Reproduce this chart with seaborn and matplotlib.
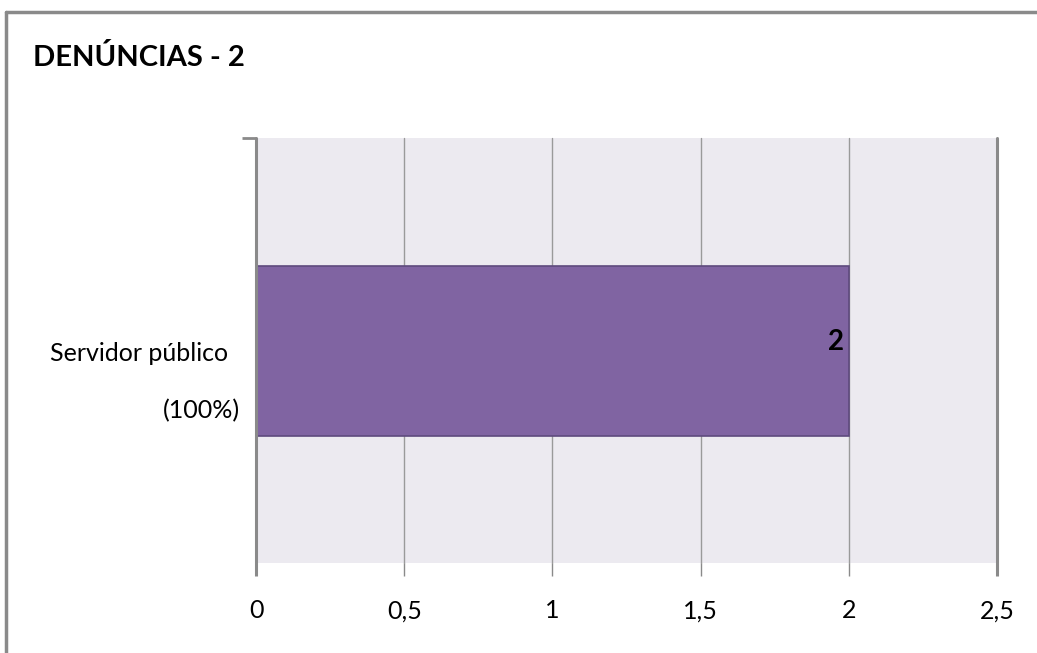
import matplotlib
matplotlib.use("Agg")
import matplotlib.pyplot as plt
import matplotlib.transforms as mtransforms
from matplotlib.lines import Line2D
import seaborn as sns
import pandas as pd

# Chart data
title = "DENÚNCIAS - 2"
categories = ["Servidor público"]
shares = ["(100%)"]
counts = [2]
x_ticks = [0, 0.5, 1, 1.5, 2, 2.5]
x_tick_labels = ["0", "0,5", "1", "1,5", "2", "2,5"]

sns.set_theme(style="white")
plt.rcParams["font.family"] = ["Lato", "DejaVu Sans"]

df = pd.DataFrame({"categoria": categories, "total": counts})

W, H = 1037, 653
fig = plt.figure(figsize=(W / 100, H / 100), dpi=100)
fig.patch.set_facecolor("white")

ax = fig.add_axes([256 / W, 1 - 563 / H, (997 - 256) / W, (563 - 138) / H])
ax.set_facecolor("#ECEAF0")

sns.barplot(data=df, x="total", y="categoria", orient="h", width=0.4,
            color="#8064A2", saturation=1, edgecolor="#5E4A7D", linewidth=1.2,
            ax=ax, zorder=3)

ax.set_xlim(0, 2.5)
ax.set_ylim(0.5, -0.5)
ax.set_xlabel("")
ax.set_ylabel("")

# vertical gridlines
for v in x_ticks:
    strong = v in (0, 2.5)
    ax.axvline(v, color="#8A8A8A" if strong else "#9A9A9A",
               lw=2.2 if strong else 1.0, zorder=4 if strong else 1,
               clip_on=False)

for side in ["top", "right", "bottom", "left"]:
    ax.spines[side].set_visible(False)

ax.set_xticks(x_ticks)
ax.set_xticklabels(x_tick_labels, fontsize=18, color="black")
ax.tick_params(axis="x", direction="out", length=9, width=1, color="#8A8A8A", pad=17,
               bottom=True)
for t, v in zip(ax.xaxis.get_major_ticks(), x_ticks):
    if v in (0, 2.5):
        t.tick1line.set_markeredgewidth(2.2)

# category tick mark at the top of the value axis
ax.set_yticks([-0.5])
ax.set_yticklabels([""])
ax.tick_params(axis="y", direction="out", length=10, width=2, color="#8A8A8A", left=True)

# category label, two lines, right aligned next to the axis
lab_tr = mtransforms.blended_transform_factory(ax.transAxes, ax.transData)
off1 = mtransforms.offset_copy(lab_tr, fig=fig, x=-20, y=-2.5, units="points")
off2 = mtransforms.offset_copy(lab_tr, fig=fig, x=-11.5, y=-43.5, units="points")
ax.text(0, 0, categories[0], transform=off1, ha="right", va="center",
        fontsize=18, color="black")
ax.text(0, 0, shares[0], transform=off2, ha="right", va="center",
        fontsize=18, color="black")

# value label inside the bar end, sitting slightly above centre
for i, v in enumerate(counts):
    val_tr = mtransforms.offset_copy(ax.transData, fig=fig, x=0, y=6, units="points")
    ax.text(v - 0.016, i, str(v), transform=val_tr, ha="right", va="center",
            fontsize=20, fontweight="bold", color="black", zorder=5)

# title
fig.text(33 / W, 1 - 58 / H, title, ha="left", va="center",
         fontsize=21, fontweight="bold", color="black")

# chart frame (left and top edges)
fig.add_artist(Line2D([5.5 / W, 5.5 / W], [0, 1 - 12 / H], transform=fig.transFigure,
                      color="#8A8A8A", lw=2.5))
fig.add_artist(Line2D([5.5 / W, 1], [1 - 12 / H, 1 - 12 / H], transform=fig.transFigure,
                      color="#8A8A8A", lw=2.5))

fig.savefig("out.png", dpi=100)
